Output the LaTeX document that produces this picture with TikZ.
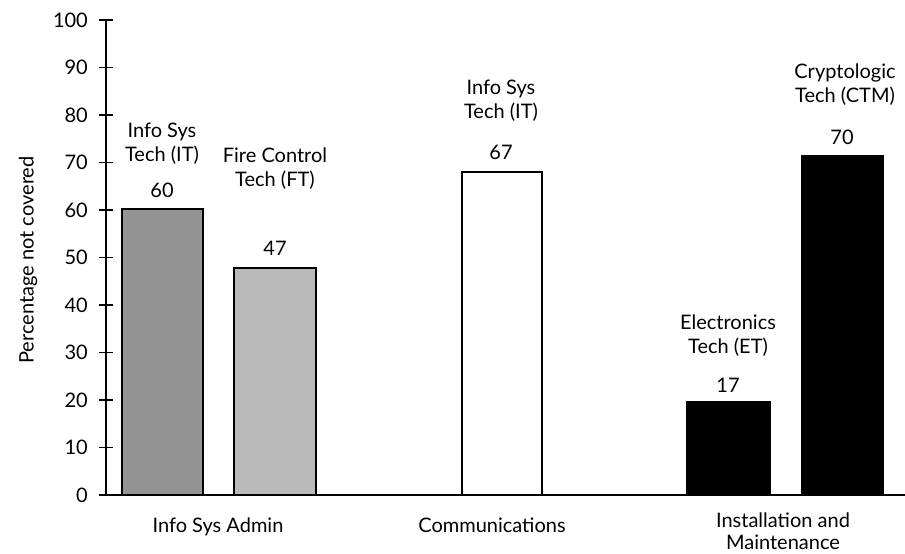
\documentclass[tikz,border=0pt]{standalone}
\usepackage{fontspec}
\setmainfont{Lato}
\usetikzlibrary{positioning}

\tikzset{
  lbl/.style={font=\fontsize{20}{24}\selectfont, inner sep=0pt, align=center},
  grainbar/.style={draw=black, line width=2.2pt},
  solidbar/.style={draw=black, line width=1.4pt},
}

\begin{document}
\begin{tikzpicture}[x=1pt,y=1pt]
  \useasboundingbox (0,0) rectangle (905,554);
  \def\u{4.75}
  \coordinate (O) at (106,59);
  \coordinate (T) at (106,534);
  \coordinate (E) at (905,59);

  % bars
  \draw[grainbar, fill=black!42] (122,59) rectangle (203,345);
  \draw[grainbar, fill=black!27] (234,59) rectangle (316,286);
  \draw[solidbar, fill=white] (462,59) rectangle (542,382);
  \draw[solidbar, fill=black] (687,59) rectangle (770,152);
  \draw[solidbar, fill=black] (802,59) rectangle (883,398);

  % axes
  \draw[line width=1.4pt] (O) -- (T);
  \draw[line width=1.4pt] (O) -- (E);
  \foreach \v in {0,10,...,100}
  {
    \draw[line width=1.2pt] (99,{59+\u*\v}) -- (113,{59+\u*\v});
    \node[lbl, anchor=east] (tick\v) at (88,{59+\u*\v}) {\v};
  }
  \node[lbl, rotate=90] (ylab) at (28,294) {Percentage not covered};

  % bar labels
  \node[lbl] (isaIT) at (162,410) {Info Sys\\Tech (IT)};
  \node[lbl] (isaITval) at (162,364) {60};
  \node[lbl] (isaFT) at (275,385) {Fire Control\\Tech (FT)};
  \node[lbl] (isaFTval) at (275,306) {47};
  \node[lbl] (comIT) at (501,453) {Info Sys\\Tech (IT)};
  \node[lbl] (comITval) at (501,402) {67};
  \node[lbl] (imET) at (728,218) {Electronics\\Tech (ET)};
  \node[lbl] (imETval) at (728,169) {17};
  \node[lbl] (imCTM) at (845,469) {Cryptologic\\Tech (CTM)};
  \node[lbl] (imCTMval) at (842,417) {70};

  % groups
  \node[lbl, anchor=base] (isa) at (218,21) {Info Sys Admin};
  \node[lbl, anchor=base] (com) at (492,21) {Communications};
  \node[lbl, anchor=base, font=\fontsize{20}{22}\selectfont] (im) at (783,4) {Installation and\\Maintenance};
\end{tikzpicture}
\end{document}
